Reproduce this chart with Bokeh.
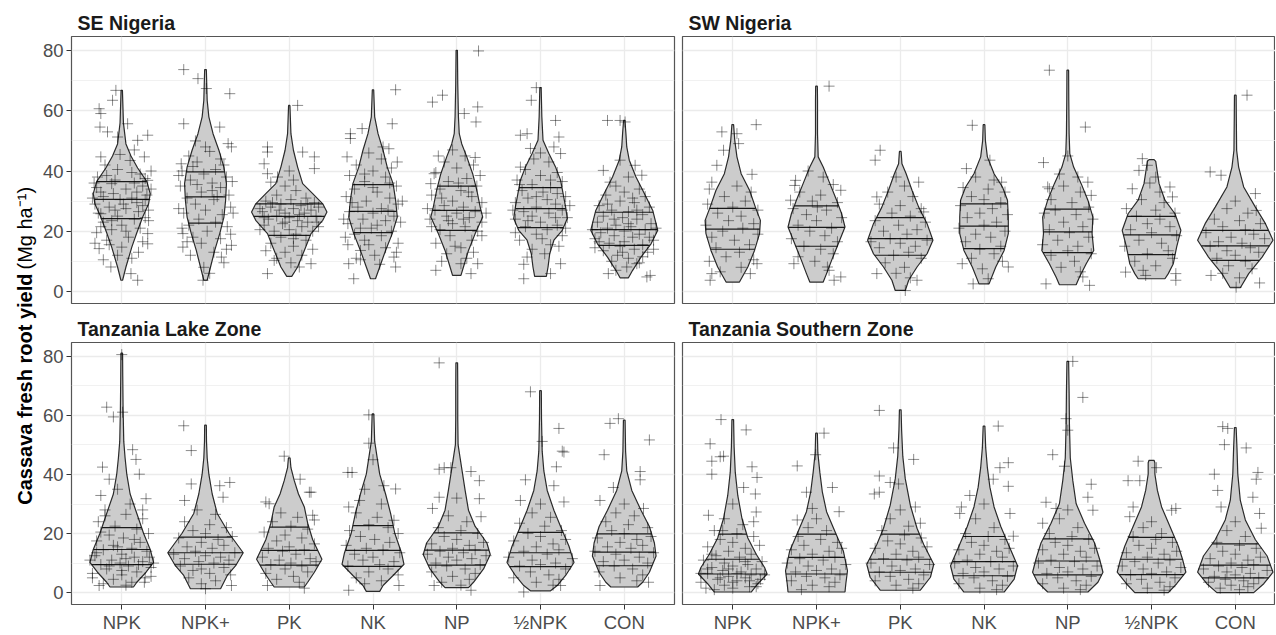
import numpy as np
from bokeh.plotting import figure
from bokeh.models import FixedTicker, Range1d
from bokeh.layouts import row, column
from bokeh.embed import file_html
from bokeh.resources import INLINE
from bokeh.core.properties import value

# ---------------- data ----------------
CATEGORIES = ["NPK", "NPK+", "PK", "NK", "NP", "½NPK", "CON"]
REGIONS = ["SE Nigeria", "SW Nigeria", "Tanzania Lake Zone", "Tanzania Southern Zone"]
Y_TICKS = [0, 20, 40, 60, 80]
Y_MINOR = [10, 30, 50, 70]
Y_TITLE_BOLD = "Cassava fresh root yield"
Y_TITLE_UNIT = "(Mg ha⁻¹)"

# quartiles (Q3, median, Q1) per treatment
SE_QUART = {"NPK": (36.5, 30.6, 24.2), "NPK+": (39.7, 31.4, 22.7), "PK": (29.1, 24.9, 18.6),
            "NK": (35.5, 26.6, 19.5), "NP": (35.0, 26.9, 20.3), "½NPK": (34.5, 27.5, 21.2),
            "CON": (26.3, 20.5, 15.3)}
SW_QUART = {"NPK": (27.6, 20.7, 14.0), "NPK+": (28.4, 21.3, 15.0), "PK": (24.5, 17.5, 12.0),
            "NK": (29.1, 21.7, 14.2), "NP": (27.3, 19.8, 12.9), "½NPK": (24.9, 18.8, 12.2),
            "CON": (20.3, 15.1, 10.3)}
TZL_QUART = {"NPK": (22.0, 14.6, 9.5), "NPK+": (18.8, 13.5, 9.6), "PK": (22.2, 14.3, 9.3),
             "NK": (22.7, 14.3, 8.9), "NP": (20.2, 14.4, 9.3), "½NPK": (20.4, 13.5, 8.8),
             "CON": (19.9, 13.7, 9.1)}
TZS_QUART = {"NPK": (19.8, 11.3, 6.3), "NPK+": (19.8, 11.9, 6.3), "PK": (19.8, 11.3, 6.9),
             "NK": (19.0, 10.5, 5.7), "NP": (18.2, 10.7, 6.0), "½NPK": (18.7, 11.3, 6.1),
             "CON": (16.5, 9.3, 5.0)}

# violin density profiles: (yield, half width in category units), top to bottom
SE_PROFILE = {
    "NPK": [(66.8, .008), (56, .02), (49, .05), (45, .11), (41, .19), (36.5, .30), (32.5, .34), (29, .32),
            (24.7, .25), (19.5, .18), (14.7, .12), (8.1, .05), (3.7, .01)],
    "NPK+": [(73.7, .01), (63.5, .02), (58, .04), (52.4, .09), (46.9, .16), (41.3, .22), (35.8, .25),
             (30.3, .24), (24.7, .22), (19.2, .17), (13.6, .11), (8.1, .06), (3.7, .02)],
    "PK": [(61.8, .008), (52.4, .02), (46.9, .05), (41.3, .10), (35.8, .16), (32.5, .28), (29.1, .40),
           (26.4, .45), (23.6, .40), (19.2, .26), (13.6, .18), (8.1, .10), (5.0, .03)],
    "NK": [(67.0, .008), (58, .02), (52.4, .06), (46.9, .12), (41.3, .17), (35.8, .24), (30.3, .27),
           (24.7, .29), (19.2, .23), (13.6, .15), (8.1, .08), (4.2, .03)],
    "NP": [(80.1, .008), (69, .012), (58, .02), (52.4, .03), (49, .06), (44.7, .12), (39.1, .19),
           (33.6, .24), (28.0, .28), (24.7, .31), (19.2, .22), (13.6, .14), (8.1, .08), (5.3, .05)],
    "½NPK": [(67.7, .008), (58, .016), (50.2, .03), (45.8, .10), (41.3, .18), (36.9, .24), (32.5, .27),
             (28.0, .30), (24.2, .32), (20.3, .26), (17.0, .16), (12.5, .11), (8.1, .09), (5.0, .07)],
    "CON": [(56.8, .008), (52.4, .02), (48, .03), (43.6, .06), (38.0, .14), (32.5, .24), (26.9, .34),
            (20.3, .40), (15.8, .32), (11.4, .20), (7.0, .10), (4.5, .05)],
}
SW_PROFILE = {
    "NPK": [(55.4, .01), (50.2, .024), (44.7, .05), (39.1, .10), (33.6, .20), (28.0, .27), (23.6, .33),
            (19.2, .32), (13.6, .26), (8.1, .18), (3.1, .08)],
    "NPK+": [(68.2, .01), (63.5, .012), (52.4, .012), (44.7, .02), (41.3, .08), (35.8, .16), (30.3, .24),
             (25.8, .30), (21.4, .34), (15.8, .26), (10.3, .18), (5.9, .12), (3.1, .08)],
    "PK": [(46.5, .01), (42.4, .02), (39.1, .07), (33.6, .14), (28.0, .22), (22.5, .32), (17.0, .39),
           (12.5, .32), (8.1, .20), (3.7, .10), (0.3, .06)],
    "NK": [(55.4, .01), (50.2, .016), (44.7, .04), (39.1, .12), (34.7, .22), (30.3, .28), (24.7, .29),
           (19.2, .29), (13.6, .24), (8.1, .14), (2.5, .06)],
    "NP": [(73.5, .01), (63.5, .012), (52.4, .016), (45.8, .024), (41.3, .07), (35.8, .16), (30.3, .24),
           (24.7, .30), (19.2, .29), (13.6, .31), (9.2, .22), (4.8, .14), (2.2, .10)],
    "½NPK": [(43.8, .03), (43.2, .05), (41.3, .06), (35.8, .09), (30.3, .16), (25.8, .28), (20.3, .35),
             (14.8, .30), (9.2, .26), (5.9, .20), (4.2, .16)],
    "CON": [(65.2, .01), (58, .012), (46.9, .016), (41.3, .04), (34.7, .10), (28.0, .24), (22.5, .36),
            (17.0, .45), (11.4, .32), (5.9, .16), (1.2, .06)],
}
TZL_PROFILE = {
    "NPK": [(81.1, .01), (73.3, .012), (62.3, .016), (51.2, .024), (45.6, .04), (40.1, .06), (33.4, .10),
            (26.8, .18), (20.1, .26), (14.6, .34), (10.2, .38), (6.9, .29), (3.5, .18), (1.9, .14)],
    "NPK+": [(56.7, .01), (51.2, .012), (45.6, .02), (40.1, .04), (33.4, .08), (26.8, .14), (20.1, .28),
             (13.5, .45), (9.1, .36), (5.8, .26), (1.3, .18)],
    "PK": [(45.6, .01), (42.3, .02), (37.9, .06), (33.4, .11), (29.0, .18), (23.5, .22), (17.9, .28),
           (11.3, .39), (6.9, .30), (3.5, .22), (1.9, .18)],
    "NK": [(60.5, .01), (51.2, .02), (45.6, .05), (40.1, .08), (33.4, .15), (26.8, .21), (20.1, .26),
           (13.5, .34), (9.6, .37), (5.8, .24), (2.4, .12), (0.4, .08)],
    "NP": [(77.8, .01), (70, .012), (58.9, .012), (50.1, .016), (45.6, .04), (40.1, .07), (34.6, .10),
           (27.9, .14), (22.4, .22), (16.8, .36), (12.9, .40), (8.0, .32), (3.5, .20), (1.7, .14)],
    "½NPK": [(68.4, .01), (58.9, .012), (47.9, .02), (41.2, .04), (34.6, .08), (27.9, .16), (22.4, .24),
             (15.7, .34), (10.2, .40), (5.8, .30), (2.4, .20), (0.6, .12)],
    "CON": [(58.4, .01), (47.9, .016), (41.2, .03), (34.6, .09), (27.9, .20), (22.4, .30), (16.8, .36),
            (12.4, .38), (6.9, .30), (3.5, .22), (1.9, .16)],
}
TZS_PROFILE = {
    "NPK": [(58.6, .01), (49.5, .016), (40.7, .03), (32.9, .06), (25.1, .11), (18.5, .18), (13.0, .28),
            (8.5, .38), (6.3, .41), (3.0, .30), (0.2, .22)],
    "NPK+": [(54.0, .01), (47.3, .016), (40.7, .04), (34.0, .07), (27.4, .12), (20.7, .22), (14.1, .32),
             (7.4, .37), (3.0, .35), (0.2, .34)],
    "PK": [(61.9, .01), (55.1, .016), (46.2, .03), (38.5, .06), (29.6, .12), (21.8, .20), (16.3, .28),
           (9.6, .40), (5.2, .36), (0.8, .24)],
    "NK": [(56.4, .01), (49.0, .02), (42.3, .04), (35.7, .07), (29.0, .12), (22.4, .20), (15.7, .30),
           (9.1, .40), (4.6, .36), (0.2, .24)],
    "NP": [(78.3, .01), (67.8, .016), (56.7, .02), (45.6, .03), (37.9, .06), (30.1, .10), (23.5, .20),
           (16.8, .32), (11.3, .38), (6.9, .42), (3.5, .36), (0.2, .24)],
    "½NPK": [(44.8, .03), (44.0, .04), (40.1, .04), (34.6, .07), (29.0, .12), (22.4, .22), (15.7, .32),
             (11.3, .37), (6.9, .41), (3.0, .30), (0.0, .20)],
    "CON": [(55.9, .01), (49.0, .02), (40.1, .03), (31.2, .06), (24.6, .12), (17.9, .24), (12.4, .38),
            (6.9, .45), (3.0, .34), (0.0, .22)],
}

# jittered observations: (jitter offset from category, yield)
SE_POINTS = {
    "NPK": [(-.07, 66.8), (-.11, 63.5), (-.27, 60.7), (-.25, 59.1), (.07, 55.7), (-.26, 54.6), (-.17, 53.0),
            (-.05, 51.3), (.31, 51.9), (.19, 50.2), (-.25, 44.7), (.27, 44.7), (-.29, 38.0), (.31, 36.9),
            (-.25, 25.8), (.31, 19.2), (-.27, 14.2), (.31, 15.8), (-.13, 8.1), (.19, 3.7), (.11, 5.9), (0, 14.7),
            (-.20, 42.0), (.10, 43.5), (-.05, 40.5), (.22, 39.0), (-.30, 34.5), (-.12, 35.8), (.05, 34.0),
            (.18, 33.0), (.30, 32.0), (-.22, 31.5), (-.02, 30.5), (.12, 31.0), (-.32, 29.0), (.25, 28.5),
            (-.15, 28.0), (.05, 27.5), (-.28, 26.0), (.20, 26.5), (-.05, 25.0), (.15, 24.0), (-.22, 23.0),
            (.32, 23.5), (0, 22.0), (-.12, 20.5), (.22, 21.0), (-.30, 19.5), (.08, 18.0), (-.18, 17.0),
            (.25, 16.5), (-.05, 12.0), (.12, 11.0), (-.22, 10.5), (.28, 37.5), (-.08, 37.0), (.15, 36.0),
            (-.25, 33.0), (.32, 27.0), (-.10, 32.5), (.02, 29.0), (.25, 35.0), (-.33, 36.0), (.35, 34.0),
            (-.18, 38.5), (.12, 39.5), (-.35, 31.0), (.28, 30.5), (-.08, 27.0), (.18, 29.5), (-.25, 21.5),
            (.05, 20.0), (.28, 24.5), (-.15, 15.5), (.20, 13.0), (-.32, 16.0), (.35, 40.0), (-.02, 45.5),
            (.15, 47.0), (-.12, 23.5)],
    "NPK+": [(-.26, 73.7), (-.09, 70.7), (.01, 67.4), (.29, 65.7), (-.26, 55.7), (.17, 54.6), (.27, 49.1),
             (.31, 48.0), (-.29, 42.4), (-.27, 14.7), (.31, 15.3), (-.03, 3.7), (.19, 11.4), (-.27, 19.2),
             (-.20, 45.0), (.05, 46.5), (-.10, 43.0), (.22, 42.0), (-.28, 40.0), (.12, 40.5), (-.02, 39.0),
             (.25, 38.0), (-.18, 37.0), (.08, 36.0), (-.30, 35.0), (.18, 34.5), (-.05, 33.0), (.28, 32.0),
             (-.22, 31.0), (.10, 30.5), (-.12, 29.0), (.30, 28.0), (0, 27.0), (-.26, 26.0), (.20, 25.5),
             (-.08, 24.0), (.12, 23.0), (-.20, 22.0), (.26, 21.5), (.02, 20.0), (-.15, 18.0), (.18, 17.5),
             (-.05, 16.0), (.10, 13.0), (-.18, 12.0), (.22, 9.5), (-.02, 8.0), (.05, 6.0), (-.32, 38.5),
             (.32, 36.5), (-.15, 41.5), (.18, 44.0), (-.32, 27.5), (.33, 26.0), (-.28, 21.0), (.30, 19.0),
             (-.10, 35.5), (.08, 33.5), (-.22, 16.5), (.25, 14.0), (0, 48.0), (-.12, 50.0), (.14, 31.5)],
    "PK": [(.10, 61.8), (-.26, 48.0), (-.26, 46.3), (.16, 46.3), (.30, 44.7), (.30, 40.8), (-.30, 42.4),
           (-.26, 39.1), (-.14, 38.0), (-.22, 36.3), (-.26, 5.9), (.26, 9.2), (.12, 8.1), (-.18, 10.3),
           (-.05, 35.0), (.08, 33.5), (-.15, 32.0), (.20, 31.0), (-.28, 30.0), (.02, 30.5), (.30, 29.5),
           (-.10, 29.0), (.14, 28.5), (-.22, 28.0), (.05, 27.5), (.26, 27.0), (-.32, 26.5), (-.05, 26.0),
           (.18, 26.0), (-.15, 25.0), (.32, 25.0), (0, 24.5), (-.25, 24.0), (.10, 23.5), (.22, 23.0),
           (-.08, 22.5), (-.30, 22.0), (.15, 21.5), (0, 20.5), (-.18, 20.0), (.28, 20.0), (.08, 19.0),
           (-.10, 18.0), (.20, 17.0), (-.22, 16.0), (.05, 15.0), (-.05, 13.0), (.15, 12.0), (-.15, 11.0),
           (.02, 9.5), (-.35, 27.5), (.35, 28.0), (-.30, 24.5), (.33, 23.0), (-.12, 27.0), (.12, 25.5),
           (-.20, 29.5), (.22, 29.0), (-.35, 20.5), (.35, 21.5), (-.05, 23.0), (.05, 17.5), (-.28, 13.5),
           (.28, 14.0), (0, 40.0), (.05, 37.0)],
    "NK": [(.27, 67.0), (.23, 55.7), (-.27, 52.4), (-.27, 50.8), (-.13, 54.1), (.19, 47.4), (.29, 43.0),
           (-.31, 44.7), (-.23, 4.2), (.27, 8.1), (.25, 11.4), (-.29, 9.2), (-.15, 13.6), (-.05, 46.0),
           (.10, 44.0), (-.20, 42.0), (.22, 41.0), (0, 40.0), (-.28, 38.5), (.15, 38.0), (-.10, 36.5),
           (.28, 35.0), (-.22, 34.0), (.05, 33.0), (-.32, 31.5), (.20, 31.0), (-.08, 30.0), (.30, 29.0),
           (-.18, 28.0), (.10, 27.5), (-.28, 26.5), (0, 26.0), (.25, 25.0), (-.12, 24.0), (.15, 23.5),
           (-.30, 22.5), (.05, 22.0), (-.02, 21.0), (.22, 20.0), (-.22, 19.0), (.10, 18.5), (-.10, 17.0),
           (.30, 16.0), (-.30, 15.5), (.15, 14.5), (.02, 12.0), (-.20, 11.0), (.08, 9.0), (-.35, 24.0),
           (.33, 23.0), (-.15, 21.0), (.18, 27.0), (-.25, 29.5), (.35, 30.0), (0, 34.5), (-.10, 39.0),
           (.20, 36.0), (-.33, 18.0), (.28, 13.0), (-.05, 15.5), (.12, 48.0), (-.15, 10.5)],
    "NP": [(.26, 79.9), (-.17, 65.2), (-.29, 62.9), (.25, 61.3), (.23, 56.3), (.09, 59.1), (-.27, 39.1),
           (-.31, 35.8), (.17, 5.9), (-.25, 7.0), (.25, 9.2), (.05, 9.2), (-.05, 47.0), (.10, 45.0),
           (-.15, 43.0), (.20, 42.0), (0, 41.0), (-.25, 39.5), (.28, 38.5), (.12, 37.5), (-.10, 36.5),
           (.24, 35.0), (-.20, 34.0), (.05, 33.5), (-.30, 32.0), (.18, 31.5), (-.05, 30.0), (.30, 29.5),
           (-.15, 28.5), (.08, 28.0), (-.26, 27.0), (.22, 26.5), (0, 26.0), (-.12, 25.0), (.15, 24.5),
           (-.32, 24.0), (.30, 23.0), (-.05, 22.5), (.10, 21.5), (-.20, 20.5), (.25, 20.0), (-.08, 18.5),
           (.18, 17.0), (-.25, 16.0), (.05, 14.5), (-.12, 12.5), (.12, 11.0), (-.35, 27.5), (.35, 26.0),
           (-.18, 31.0), (.14, 33.0), (-.10, 23.5), (.08, 24.0), (.30, 18.5), (-.30, 21.5), (.02, 36.0),
           (-.22, 45.0), (.22, 44.5), (-.02, 15.0), (.20, 13.0), (-.18, 10.0)],
    "½NPK": [(-.05, 67.7), (-.11, 63.5), (.18, 56.8), (.22, 51.3), (.16, 48.0), (-.24, 51.9), (-.16, 52.4),
             (-.24, 41.3), (.24, 45.8), (.20, 32.5), (-.16, 11.4), (.24, 9.2), (.12, 5.9), (-.20, 4.2),
             (0, 46.0), (-.08, 44.0), (.10, 43.0), (-.18, 40.5), (.20, 39.5), (0, 38.5), (-.28, 37.0),
             (.26, 36.5), (-.10, 35.5), (.12, 34.5), (-.22, 33.5), (.03, 33.0), (.30, 31.5), (-.15, 31.0),
             (.08, 30.5), (-.30, 29.5), (.18, 29.0), (-.05, 28.0), (.26, 27.0), (-.20, 26.5), (.10, 26.0),
             (-.10, 25.0), (.32, 24.5), (-.30, 24.0), (0, 23.0), (.20, 22.0), (-.18, 21.5), (.08, 20.5),
             (-.05, 19.0), (.26, 18.5), (-.25, 17.0), (.12, 15.5), (-.10, 14.0), (.05, 12.5), (-.33, 27.0),
             (.35, 28.5), (-.15, 23.5), (.18, 24.5), (-.05, 31.5), (.12, 37.0), (-.25, 35.5), (.30, 21.0),
             (-.30, 19.5), (.02, 17.5), (-.12, 47.5), (.22, 15.0), (-.20, 9.0)],
    "CON": [(-.20, 56.8), (-.05, 56.8), (.01, 56.3), (-.25, 40.2), (.13, 41.9), (.21, 38.6), (-.05, 43.6),
            (-.17, 36.3), (-.19, 5.9), (.27, 4.8), (.31, 5.3), (.15, 9.2), (.03, 8.1), (.05, 38.0),
            (-.10, 35.0), (.18, 34.0), (0, 33.0), (-.22, 32.0), (.25, 31.5), (-.05, 30.0), (.12, 29.5),
            (-.30, 28.5), (.30, 28.0), (-.15, 27.0), (.05, 26.5), (.22, 25.5), (-.25, 25.0), (-.02, 24.5),
            (.15, 24.0), (-.32, 23.0), (.32, 22.5), (-.10, 22.0), (.08, 21.5), (-.20, 21.0), (.25, 20.5),
            (0, 20.0), (-.28, 19.5), (.18, 19.0), (-.12, 18.5), (.10, 18.0), (-.35, 17.5), (.35, 17.0),
            (0, 16.5), (-.18, 16.0), (.22, 15.5), (-.05, 15.0), (.12, 14.0), (-.25, 13.5), (.28, 13.0),
            (-.08, 12.0), (.05, 11.0), (-.15, 10.0), (.18, 9.5), (-.38, 20.5), (.38, 21.0), (-.30, 16.5),
            (.30, 18.0), (-.12, 24.0), (.05, 22.5), (.15, 27.0), (-.20, 29.0), (.10, 31.0), (-.35, 14.5),
            (.35, 14.0), (-.02, 13.0), (.22, 11.5), (-.10, 7.0)],
}
SW_POINTS = {
    "NPK": [(.28, 55.4), (-.13, 53.0), (.05, 52.4), (.07, 49.1), (-.11, 46.9), (-.19, 41.9), (.23, 38.9),
            (-.25, 36.3), (-.27, 3.7), (-.25, 5.9), (.29, 9.2), (.21, 5.9), (-.28, 34.0), (.05, 35.0),
            (.22, 33.0), (-.10, 31.5), (.15, 30.0), (-.30, 29.0), (0, 28.0), (.30, 27.0), (-.18, 26.0),
            (.10, 25.0), (-.05, 23.5), (.25, 22.5), (-.32, 22.0), (.12, 21.0), (-.12, 20.0), (.30, 19.0),
            (-.25, 18.0), (.02, 17.0), (.20, 15.5), (-.20, 14.5), (.08, 13.0), (-.08, 11.5), (.25, 10.5),
            (-.28, 10.0), (.10, 8.0), (-.15, 6.5)],
    "NPK+": [(.15, 68.2), (-.25, 36.9), (-.26, 35.2), (-.31, 30.3), (.29, 33.6), (.01, 28.0), (-.27, 9.2),
             (.21, 3.7), (.29, 4.8), (.13, 8.1), (-.10, 40.0), (.08, 38.0), (.20, 35.5), (-.20, 33.0),
             (.05, 32.0), (-.05, 30.0), (.25, 29.5), (-.28, 27.5), (.12, 27.0), (-.12, 25.5), (.30, 24.5),
             (0, 23.5), (-.22, 22.0), (.18, 21.0), (-.08, 20.0), (.10, 18.5), (-.30, 17.5), (.25, 16.5),
             (-.15, 15.0), (.05, 14.0), (.20, 12.5), (-.22, 11.5), (-.02, 10.0), (.15, 7.0)],
    "PK": [(-.24, 46.9), (-.30, 43.6), (.22, 36.3), (.28, 26.4), (-.28, 31.4), (-.28, 5.9), (.06, 0.3),
           (.20, 3.7), (-.05, 38.0), (.05, 35.0), (-.15, 33.0), (.15, 31.5), (-.25, 29.0), (0, 28.5),
           (.25, 27.5), (-.10, 26.0), (.12, 25.0), (-.30, 23.5), (.30, 23.0), (-.02, 22.0), (.20, 20.5),
           (-.20, 20.0), (.08, 19.0), (-.12, 17.5), (.32, 17.0), (-.35, 16.5), (0, 16.0), (.18, 15.0),
           (-.25, 14.5), (.10, 13.0), (-.08, 12.0), (.25, 11.0), (-.18, 9.5), (.05, 8.0), (-.05, 6.0),
           (.12, 4.5)],
    "NK": [(-.14, 55.2), (-.21, 40.8), (-.26, 9.2), (.07, 43.6), (.21, 36.3), (.29, 8.1), (-.13, 2.5),
           (.05, 4.2), (-.10, 38.0), (.12, 37.0), (-.25, 34.5), (.05, 34.0), (.25, 33.0), (-.15, 31.5),
           (0, 30.5), (.20, 29.5), (-.28, 28.5), (.10, 27.5), (-.05, 26.0), (.28, 25.5), (-.20, 24.5),
           (.15, 23.0), (0, 22.0), (-.30, 21.0), (.25, 20.0), (-.10, 19.0), (.08, 18.0), (-.22, 16.5),
           (.20, 15.0), (-.05, 14.0), (.12, 12.5), (-.15, 11.0), (.22, 10.0), (-.02, 7.5)],
    "NP": [(-.22, 73.5), (.21, 54.6), (-.29, 42.8), (-.24, 34.7), (-.22, 34.1), (.24, 36.3), (.28, 31.9),
           (-.26, 2.5), (.26, 2.0), (.18, 4.8), (0, 45.0), (-.10, 39.0), (.12, 38.0), (-.05, 35.0),
           (.15, 33.0), (-.20, 30.5), (.05, 29.5), (.25, 28.0), (-.15, 27.0), (-.28, 26.0), (.10, 25.5),
           (.30, 24.0), (-.05, 23.0), (.18, 21.5), (-.22, 20.5), (.02, 19.5), (.25, 18.0), (-.12, 17.0),
           (-.30, 15.5), (.12, 15.0), (0, 13.5), (.28, 12.5), (-.20, 12.0), (.08, 10.0), (-.08, 8.0),
           (.15, 6.5)],
    "½NPK": [(-.11, 44.1), (-.15, 40.2), (-.05, 41.9), (-.23, 34.1), (.22, 34.7), (.25, 31.4), (-.31, 6.4),
             (.29, 5.9), (.29, 3.7), (-.07, 5.3), (.05, 38.0), (-.02, 36.0), (.10, 33.0), (-.12, 30.5),
             (.15, 29.5), (-.30, 27.5), (.05, 27.0), (.28, 26.0), (-.18, 25.0), (.10, 24.0), (-.05, 22.5),
             (.22, 21.5), (-.25, 20.5), (0, 19.5), (.30, 18.5), (-.15, 17.0), (.12, 16.0), (-.32, 15.0),
             (.20, 13.5), (-.05, 12.5), (.25, 11.0), (-.20, 10.0), (.05, 8.5), (-.10, 7.0)],
    "CON": [(.14, 65.2), (-.30, 39.7), (-.17, 38.6), (.24, 32.5), (.25, 26.9), (-.29, 5.3), (.29, 2.8),
            (.01, 1.4), (0, 30.0), (-.10, 27.5), (.15, 26.0), (-.25, 24.0), (.05, 23.5), (.30, 22.5),
            (-.15, 21.5), (.12, 20.5), (-.35, 19.5), (.22, 19.0), (-.05, 18.0), (.35, 17.5), (-.20, 16.5),
            (.08, 16.0), (-.30, 15.0), (.18, 14.5), (-.10, 13.5), (.28, 13.0), (0, 12.0), (-.22, 11.0),
            (.12, 10.0), (-.08, 8.5), (.20, 7.5), (-.15, 6.0), (.05, 4.5)],
}
TZL_POINTS = {
    "NPK": [(0, 80.6), (-.18, 62.8), (-.10, 59.5), (.01, 61.1), (.13, 48.4), (.17, 45.1), (-.23, 42.5),
            (.21, 40.1), (.29, 31.8), (-.25, 32.9), (-.15, 38.4), (-.27, 2.4), (.27, 3.5), (-.05, 35.0),
            (.10, 30.0), (-.20, 28.0), (.05, 26.5), (.25, 25.0), (-.28, 24.0), (-.08, 22.5), (.18, 21.5),
            (.32, 20.0), (-.15, 19.5), (.02, 18.5), (-.30, 17.5), (.22, 17.0), (-.10, 16.0), (.12, 15.0),
            (-.22, 14.5), (.30, 14.0), (0, 13.0), (-.32, 12.5), (.15, 12.0), (-.12, 11.0), (.25, 10.5),
            (-.02, 10.0), (-.25, 9.5), (.08, 9.0), (.35, 8.5), (-.18, 8.0), (.18, 7.0), (-.35, 6.5),
            (0, 6.0), (.28, 5.0), (-.10, 4.5), (.12, 3.5), (-.22, 3.0), (.05, 2.5), (-.38, 11.0),
            (.38, 10.0), (-.30, 13.5), (.33, 12.0), (-.15, 9.0), (.05, 11.5), (.20, 9.5), (-.05, 15.5),
            (.15, 18.0), (-.25, 20.5), (-.35, 5.0), (.35, 5.5), (0, 7.5), (-.20, 26.0), (.25, 28.0)],
    "NPK+": [(-.26, 56.5), (-.17, 48.1), (-.17, 36.8), (.17, 36.2), (.29, 37.3), (.21, 32.3), (-.25, 31.2),
             (-.05, 8.0), (.31, 2.4), (0, 1.3), (-.10, 28.0), (.12, 26.5), (-.25, 24.0), (.05, 23.0),
             (.25, 22.0), (-.15, 21.0), (0, 20.0), (.32, 19.0), (-.32, 18.5), (.15, 18.0), (-.05, 17.0),
             (.22, 16.0), (-.22, 15.5), (.08, 15.0), (-.12, 14.0), (.35, 13.5), (-.38, 13.0), (0, 12.5),
             (.18, 12.0), (-.25, 11.5), (.28, 11.0), (-.08, 10.5), (.10, 10.0), (-.30, 9.0), (.22, 8.5),
             (-.15, 7.5), (.05, 6.5), (.30, 6.0), (-.20, 5.0), (.12, 4.0), (-.05, 3.0)],
    "PK": [(-.06, 46.2), (.13, 38.4), (.24, 34.0), (.26, 34.0), (-.24, 30.1), (-.28, 30.7), (.28, 26.2),
           (.30, 24.6), (.18, 1.5), (-.26, 2.4), (-.10, 27.0), (.10, 25.5), (-.20, 24.0), (.02, 22.5),
           (.22, 21.5), (-.30, 20.5), (-.05, 19.5), (.15, 18.5), (-.15, 17.5), (.30, 16.5), (0, 15.5),
           (-.25, 15.0), (.18, 14.5), (-.08, 14.0), (.08, 13.0), (-.32, 12.0), (.25, 11.5), (-.12, 11.0),
           (.32, 10.5), (.02, 10.0), (-.22, 9.5), (.15, 9.0), (-.05, 8.0), (.22, 7.0), (-.28, 6.5),
           (.05, 5.5), (-.15, 4.5), (.12, 3.5)],
    "NK": [(-.05, 60.2), (-.05, 50.6), (-.25, 40.7), (-.30, 40.7), (.27, 35.1), (.13, 36.2), (-.29, 29.0),
           (-.16, 31.2), (-.29, 0.8), (.31, 2.4), (0, 45.0), (-.10, 35.0), (.10, 30.0), (-.20, 27.0),
           (.05, 25.5), (.25, 24.5), (-.05, 23.0), (.18, 22.0), (-.28, 21.0), (.30, 20.0), (-.15, 19.0),
           (.02, 18.0), (.20, 17.0), (-.32, 16.0), (-.08, 15.0), (.12, 14.5), (.32, 13.5), (-.22, 13.0),
           (0, 12.0), (-.12, 11.0), (.25, 10.5), (.08, 9.5), (-.30, 9.0), (.18, 8.0), (-.05, 7.0),
           (.30, 6.0), (-.20, 5.0), (.10, 4.0), (-.10, 3.0)],
    "NP": [(-.21, 77.8), (-.21, 41.8), (-.15, 42.3), (-.07, 42.3), (.17, 41.0), (.27, 37.9), (-.21, 32.3),
           (-.29, 28.5), (.27, 31.8), (.29, 25.7), (.17, 0.8), (-.27, 2.4), (0, 32.0), (-.10, 26.0),
           (.12, 24.0), (-.22, 22.0), (.05, 21.0), (.25, 20.0), (-.15, 19.0), (0, 18.0), (.32, 17.0),
           (-.30, 16.5), (.15, 16.0), (-.05, 15.0), (.22, 14.5), (-.20, 14.0), (.08, 13.5), (-.35, 13.0),
           (.35, 12.5), (-.10, 12.0), (.18, 11.5), (0, 11.0), (-.25, 10.0), (.28, 9.5), (-.12, 9.0),
           (.10, 8.0), (-.30, 7.0), (.22, 6.5), (-.05, 5.5), (.15, 4.5), (-.18, 3.5), (.05, 2.5)],
    "½NPK": [(-.12, 68.0), (.22, 55.6), (.28, 47.6), (.26, 47.9), (.19, 42.6), (-.18, 38.2), (.16, 36.2),
             (-.24, 31.2), (.28, 30.7), (.02, 51.2), (-.20, 0.2), (.24, 2.4), (0, 30.0), (-.10, 27.0),
             (.12, 25.5), (-.25, 23.5), (.05, 22.5), (.25, 21.0), (-.15, 20.0), (0, 19.0), (.30, 18.0),
             (-.32, 17.5), (.15, 16.5), (-.05, 15.5), (.22, 14.5), (-.20, 14.0), (.08, 13.0), (-.38, 12.0),
             (.38, 11.5), (-.10, 11.0), (.18, 10.0), (0, 9.5), (-.25, 9.0), (.30, 8.0), (-.12, 7.0),
             (.10, 6.0), (-.32, 5.0), (.22, 4.5), (-.05, 3.5), (.15, 2.5)],
    "CON": [(-.17, 57.3), (-.07, 58.9), (.30, 51.7), (-.24, 46.7), (.19, 41.0), (.19, 38.2), (-.13, 35.6),
            (-.29, 31.2), (.23, 28.5), (.29, 3.5), (-.29, 2.4), (0, 30.0), (-.10, 27.0), (.12, 26.0),
            (-.22, 24.0), (.05, 23.0), (.28, 22.0), (-.15, 21.0), (0, 20.0), (.32, 19.0), (-.32, 18.5),
            (.15, 18.0), (-.05, 17.0), (.22, 16.0), (-.20, 15.5), (.08, 15.0), (-.35, 14.0), (.35, 13.5),
            (-.10, 13.0), (.18, 12.0), (0, 11.0), (-.25, 10.5), (.28, 10.0), (-.12, 9.0), (.10, 8.0),
            (-.30, 7.0), (.22, 6.0), (-.05, 5.0), (.15, 4.0)],
}
TZS_POINTS = {
    "NPK": [(-.14, 58.6), (.16, 55.1), (-.27, 50.4), (-.25, 44.5), (-.15, 46.0), (-.11, 46.2), (.23, 42.6),
            (.29, 39.0), (-.25, 40.1), (.27, 33.4), (-.29, 26.2), (.28, 27.3), (.13, 35.6), (0, 30.0),
            (-.10, 25.0), (.12, 23.0), (-.22, 21.0), (.05, 20.0), (.25, 19.0), (-.15, 18.0), (0, 17.0),
            (.32, 16.0), (-.30, 15.5), (.15, 15.0), (-.05, 14.0), (.22, 13.0), (-.20, 12.5), (.08, 12.0),
            (-.35, 11.0), (.35, 10.5), (-.10, 10.0), (.18, 9.5), (0, 9.0), (-.25, 8.5), (.28, 8.0),
            (-.12, 7.5), (.10, 7.0), (-.30, 6.5), (.22, 6.0), (-.05, 5.5), (.15, 5.0), (-.18, 4.5),
            (.05, 4.0), (-.38, 3.5), (.30, 3.0), (-.10, 2.5), (.20, 2.0), (0, 1.5), (-.22, 1.0),
            (-.38, 6.5), (.38, 6.0), (-.30, 8.0), (.33, 4.5), (-.15, 5.0), (.05, 6.5), (.20, 4.0),
            (-.05, 8.0), (.15, 10.5), (-.25, 13.0), (.28, 2.0), (-.32, 1.5), (0, 3.5), (-.12, 21.0),
            (.25, 24.0)],
    "NPK+": [(.09, 54.0), (-.23, 42.9), (-.12, 34.0), (.19, 35.6), (.27, 27.4), (-.23, 24.6), (-.01, 46.7),
             (-.05, 28.5), (0, 25.0), (-.10, 22.0), (.12, 21.0), (-.22, 19.0), (.05, 18.0), (.25, 17.0),
             (-.15, 16.0), (.30, 15.0), (-.30, 14.5), (.15, 14.0), (-.05, 13.0), (.22, 12.0), (-.20, 11.5),
             (.08, 11.0), (-.35, 10.0), (.35, 9.5), (-.10, 9.0), (.18, 8.0), (0, 7.5), (-.25, 7.0),
             (.28, 6.0), (-.12, 5.5), (.10, 5.0), (-.30, 4.0), (.22, 3.5), (-.05, 2.5), (.15, 2.0),
             (-.18, 1.0)],
    "PK": [(-.25, 61.7), (-.08, 49.0), (.16, 45.1), (-.25, 39.5), (-.12, 37.3), (-.02, 36.8), (-.31, 33.4),
           (-.25, 34.0), (.18, 29.0), (.24, 23.5), (0, 28.0), (-.12, 25.0), (.10, 22.5), (-.22, 21.0),
           (.05, 19.5), (.25, 18.5), (-.15, 17.5), (0, 16.5), (.32, 15.5), (-.30, 15.0), (.15, 14.0),
           (-.05, 13.0), (.22, 12.0), (-.20, 11.5), (.08, 11.0), (-.35, 10.0), (.35, 9.5), (-.10, 9.0),
           (.18, 8.0), (0, 7.5), (-.25, 7.0), (.28, 6.0), (-.12, 5.5), (.10, 4.5), (-.30, 4.0),
           (.22, 3.0), (-.05, 2.5), (.15, 1.5)],
    "NK": [(.17, 56.4), (.11, 38.4), (.19, 42.3), (.29, 44.0), (.29, 36.0), (.31, 26.8), (-.17, 32.9),
           (-.27, 29.0), (-.29, 26.8), (.35, 19.1), (0, 30.0), (-.10, 25.0), (.12, 22.0), (-.22, 20.0),
           (.05, 19.0), (.25, 18.0), (-.15, 17.0), (0, 16.0), (.30, 15.0), (-.30, 14.5), (.15, 14.0),
           (-.05, 13.0), (.22, 12.0), (-.20, 11.0), (.08, 10.5), (-.35, 10.0), (.35, 9.0), (-.10, 8.5),
           (.18, 8.0), (0, 7.0), (-.25, 6.5), (.28, 5.5), (-.12, 5.0), (.10, 4.0), (-.30, 3.0),
           (.22, 2.5), (-.05, 1.5), (.15, 1.0)],
    "NP": [(.06, 78.3), (.18, 66.1), (-.02, 58.9), (0, 55.0), (-.18, 46.7), (-.04, 42.8), (.28, 36.7),
           (-.26, 30.6), (.24, 32.3), (.30, 27.9), (-.14, 28.5), (-.30, 23.5), (0, 28.0), (-.10, 25.0),
           (.12, 22.0), (-.22, 20.0), (.05, 19.0), (.25, 18.0), (-.15, 17.0), (0, 16.0), (.32, 15.0),
           (-.30, 14.5), (.15, 14.0), (-.05, 13.0), (.22, 12.0), (-.20, 11.0), (.08, 10.5), (-.35, 10.0),
           (.35, 9.0), (-.10, 8.5), (.18, 8.0), (0, 7.0), (-.25, 6.5), (.28, 5.5), (-.12, 5.0),
           (.10, 4.0), (-.30, 3.0), (.22, 2.5), (-.05, 1.5), (.15, 1.0)],
    "½NPK": [(-.16, 44.5), (-.14, 37.9), (-.28, 37.9), (.06, 42.3), (.24, 27.9), (.29, 28.5), (-.26, 25.7),
             (-.22, 29.0), (0, 24.0), (-.10, 22.0), (.12, 20.0), (-.22, 19.0), (.05, 18.0), (.25, 17.0),
             (-.15, 16.0), (0, 15.0), (.30, 14.0), (-.30, 13.5), (.15, 13.0), (-.05, 12.0), (.22, 11.0),
             (-.20, 10.5), (.08, 10.0), (-.35, 9.0), (.35, 8.5), (-.10, 8.0), (.18, 7.0), (0, 6.5),
             (-.25, 6.0), (.28, 5.0), (-.12, 4.5), (.10, 3.5), (-.30, 3.0), (.22, 2.0), (-.05, 1.5),
             (.15, 0.8)],
    "CON": [(-.15, 56.2), (-.09, 55.6), (-.13, 50.1), (.13, 49.0), (-.25, 40.1), (.27, 40.7), (.25, 38.4),
            (.21, 32.3), (.29, 26.8), (.31, 21.8), (-.21, 34.6), (-.17, 29.0), (0, 24.0), (-.10, 21.0),
            (.12, 19.0), (-.22, 17.0), (.05, 16.0), (.25, 15.0), (-.15, 14.0), (0, 13.0), (.30, 12.0),
            (-.30, 11.5), (.15, 11.0), (-.05, 10.0), (.22, 9.5), (-.20, 9.0), (.08, 8.5), (-.38, 8.0),
            (.38, 7.5), (-.10, 7.0), (.18, 6.5), (0, 6.0), (-.25, 5.5), (.28, 5.0), (-.12, 4.5),
            (.10, 4.0), (-.32, 3.5), (.22, 3.0), (-.05, 2.5), (.15, 2.0), (-.18, 1.5), (.05, 1.0)],
}

# ---------------- styling / layout ----------------
FONT = "Liberation Sans"
Y_LO, Y_HI = -4.03, 84.7
GRID = "#ebebeb"
BORDER = "#555555"


def make_panel(region, profiles, quartiles, points, x_end, show_x, show_y, width, height, mb):
    p = figure(width=width, height=height, title=region,
               x_range=Range1d(0.4, x_end), y_range=Range1d(Y_LO, Y_HI),
               toolbar_location=None, output_backend="svg",
               min_border_left=mb[0], min_border_right=mb[1],
               min_border_top=mb[2], min_border_bottom=mb[3])
    p.background_fill_color = "white"
    p.border_fill_color = "white"
    p.outline_line_color = BORDER
    p.outline_line_width = 1.2

    p.title.text_font = FONT
    p.title.text_font_size = "19.5px"
    p.title.text_font_style = "bold"
    p.title.text_color = "#1a1a1a"
    p.title.align = "left"
    p.title.offset = 6
    p.title.standoff = 6

    xt = list(range(1, len(CATEGORIES) + 1))
    p.xgrid.ticker = FixedTicker(ticks=xt)
    p.ygrid.ticker = FixedTicker(ticks=Y_TICKS, minor_ticks=Y_MINOR)
    p.xgrid.grid_line_color = GRID
    p.xgrid.grid_line_width = 1.3
    p.ygrid.grid_line_color = GRID
    p.ygrid.grid_line_width = 1.3
    p.ygrid.minor_grid_line_color = GRID
    p.ygrid.minor_grid_line_width = 0.7

    p.xaxis.ticker = FixedTicker(ticks=xt)
    p.xaxis.major_label_overrides = {i + 1: c for i, c in enumerate(CATEGORIES)}
    p.yaxis.ticker = FixedTicker(ticks=Y_TICKS)
    for ax in (p.xaxis, p.yaxis):
        ax.axis_line_color = None
        ax.major_tick_line_color = "#333333"
        ax.major_tick_in = 0
        ax.major_tick_out = 5
        ax.minor_tick_line_color = None
        ax.major_label_text_font = FONT
        ax.major_label_text_font_size = "18.5px"
        ax.major_label_text_color = "#4d4d4d"
    p.xaxis.major_label_standoff = 2
    p.yaxis.major_label_standoff = 3
    p.xaxis.visible = show_x
    p.yaxis.visible = show_y

    xs_all, ys_all = [], []
    seg = {"x0": [], "x1": [], "y": []}
    px, py = [], []
    for i, cat in enumerate(CATEGORIES):
        c = i + 1
        prof = profiles[cat]
        yv = [a for a, _ in prof]
        hw = [b for _, b in prof]
        xs_all.append([c + h for h in hw] + [c - h for h in reversed(hw)])
        ys_all.append(yv + list(reversed(yv)))
        y_asc = yv[::-1]
        w_asc = hw[::-1]
        for q in quartiles[cat]:
            w = float(np.interp(q, y_asc, w_asc))
            seg["x0"].append(c - w)
            seg["x1"].append(c + w)
            seg["y"].append(q)
        for dx, yy in points[cat]:
            px.append(c + dx)
            py.append(yy)

    p.patches(xs_all, ys_all, fill_color="#cccccc", line_color="#2b2b2b", line_width=1.2)
    p.segment(x0=seg["x0"], y0=seg["y"], x1=seg["x1"], y1=seg["y"],
              line_color="#1a1a1a", line_width=1.2)
    p.scatter(px, py, marker="cross", size=11, line_color="black", line_alpha=0.45, line_width=1)
    return p


p1 = make_panel(REGIONS[0], SE_PROFILE, SE_QUART, SE_POINTS, 7.6, False, True, 640, 306, (33, 4, 36, 3))
p2 = make_panel(REGIONS[1], SW_PROFILE, SW_QUART, SW_POINTS, 7.48, False, False, 597, 306, (4, 0, 36, 3))
p3 = make_panel(REGIONS[2], TZL_PROFILE, TZL_QUART, TZL_POINTS, 7.6, True, True, 640, 329, (33, 4, 36, 26))
p4 = make_panel(REGIONS[3], TZS_PROFILE, TZS_QUART, TZS_POINTS, 7.48, True, False, 597, 329, (4, 0, 36, 26))

# y-axis title strip
lab = figure(width=38, height=635, x_range=Range1d(0, 38), y_range=Range1d(0, 635),
             toolbar_location=None, output_backend="svg", min_border=0,
             x_axis_location=None, y_axis_location=None)
lab.grid.visible = False
lab.outline_line_color = None
lab.background_fill_color = "white"
lab.border_fill_color = "white"
lab.text(x=[24], y=[362], text=[Y_TITLE_BOLD], angle=np.pi / 2, text_align="right",
         text_baseline="middle", text_font=value(FONT), text_font_style="bold",
         text_font_size="20px", text_color="black")
lab.text(x=[24], y=[366], text=[Y_TITLE_UNIT], angle=np.pi / 2, text_align="left",
         text_baseline="middle", text_font=value(FONT), text_font_style="normal",
         text_font_size="20px", text_color="black")

layout = row(lab, column(row(p1, p2), row(p3, p4)))
open("out.html", "w").write(file_html(layout, INLINE))
